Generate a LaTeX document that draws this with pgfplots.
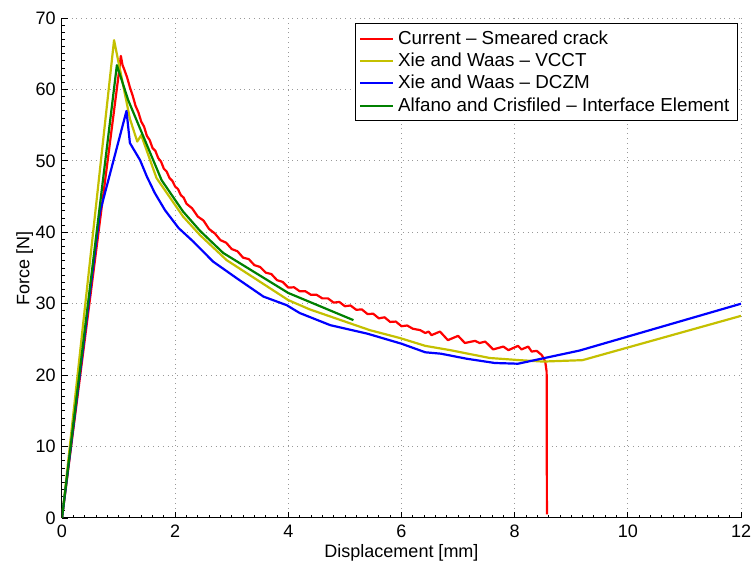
\documentclass[border=0pt]{standalone}
\usepackage{pgfplots}
\pgfplotsset{compat=1.18}
\usepackage{fontspec}
\setmainfont{Liberation Sans}
\definecolor{myred}{RGB}{255,0,0}
\definecolor{myyel}{RGB}{196,192,0}
\definecolor{myblue}{RGB}{0,0,255}
\definecolor{mygreen}{RGB}{0,128,0}
\begin{document}
\fontsize{9}{11}\selectfont
\begin{tikzpicture}
\begin{axis}[
  scale only axis,
  width=339.5pt, height=250pt,
  xmin=0, xmax=12, ymin=0, ymax=70,
  xtick={0,2,...,12}, ytick={0,10,...,70},
  minor x tick num=9, minor y tick num=9,
  axis x line*=bottom, axis y line*=left,
  axis line style={line width=0.5pt, -},
  tick align=inside,
  major tick length=3pt, minor tick length=1.5pt,
  tick style={black, line width=0.4pt},
  grid=major,
  major grid style={dotted, gray!80, line width=0.5pt},
  /pgf/number format/assume math mode=true,
  tick label style={font=\fontsize{9}{11}\selectfont},
  label style={font=\fontsize{9}{11}\selectfont},
  xlabel={Displacement [mm]},
  ylabel={Force [N]},
  xlabel style={yshift=3pt},
  ylabel style={yshift=-5pt},
  xticklabel style={yshift=-0.5pt},
  legend cell align=left,
  legend style={at={(0.9956,0.99)}, anchor=north east, draw=black, line width=0.6pt,
    font=\fontsize{9.4}{11}\selectfont, inner xsep=2pt, inner ysep=1.5pt,
    row sep=-1.0pt},
  legend image code/.code={\draw[#1, line width=1pt] (0pt,0pt) -- (16.5pt,0pt);},
  every axis plot/.append style={line width=1.1pt, line join=round},
]
\addplot[myred] coordinates {
(0,0) (1.0,62.0) (1.04,64.7)
(1.07,63.4) (1.1,62.8) (1.15,61.7) (1.2,60.3) (1.25,59.1) (1.3,57.7) (1.35,56.8) (1.4,55.5)
(1.45,54.8) (1.5,53.5) (1.55,52.9) (1.6,51.8) (1.65,51.4) (1.7,50.4) (1.75,49.9) (1.8,48.9)
(1.85,48.5) (1.9,47.6) (1.95,47.2) (2.0,46.4) (2.05,46.05) (2.1,45.2) (2.15,44.85) (2.2,44.0)
(2.3,43.35) (2.4,42.2) (2.5,41.65) (2.6,40.45) (2.7,39.85) (2.8,38.9) (2.9,38.55) (3.0,37.65)
(3.1,37.35) (3.2,36.45) (3.3,36.25) (3.4,35.4) (3.5,35.15) (3.6,34.35) (3.7,34.15) (3.8,33.3)
(3.9,33.05) (4.0,32.25) (4.1,32.3) (4.2,31.75) (4.3,31.75) (4.4,31.25) (4.5,31.25) (4.6,30.75)
(4.7,30.75) (4.8,30.15) (4.9,30.25) (5.0,29.65) (5.1,29.75) (5.2,29.15) (5.3,29.2) (5.4,28.55)
(5.5,28.6) (5.6,27.95) (5.7,28.1) (5.8,27.45) (5.9,27.5) (6.0,26.85) (6.1,26.95) (6.2,26.5)
(6.33,26.3) (6.42,25.9) (6.48,26.1) (6.53,25.6) (6.68,26.1) (6.82,24.9) (7.0,25.5) (7.12,24.5)
(7.3,24.8) (7.38,24.5) (7.48,24.7) (7.62,23.6) (7.8,24.0) (7.89,23.5) (8.06,24.1) (8.12,23.6)
(8.24,24.0) (8.3,23.3) (8.39,23.4) (8.48,22.8) (8.54,21.9) (8.565,20.5) (8.57,0.5)
};
\addlegendentry{Current -- Smeared crack}
\addplot[myyel] coordinates {
(0,0) (0.92,66.9) (1.20,55.9) (1.33,52.7) (1.40,53.6) (1.67,47.6) (2.14,42.2) (2.44,39.6)
(2.91,36.1) (4.0,30.5) (4.38,29.2) (5.44,26.3) (5.97,25.2) (6.42,24.1) (6.86,23.5)
(7.56,22.4) (8.09,22.1) (8.5,21.9) (9.2,22.1) (12,28.3)
};
\addlegendentry{Xie and Waas -- VCCT}
\addplot[myblue] coordinates {
(0,0) (0.67,42.8) (1.14,57.0) (1.20,52.5) (1.38,50.1) (1.50,47.8) (1.64,45.5) (1.82,43.1)
(2.06,40.6) (2.32,38.7) (2.67,35.9) (3.1,33.5) (3.56,31.0) (3.97,29.8) (4.2,28.7) (4.74,27.0)
(5.4,25.8) (6.0,24.4) (6.42,23.2) (6.7,23.0) (7.15,22.3) (7.65,21.7) (8.06,21.6) (9.15,23.45)
(12,30.0)
};
\addlegendentry{Xie and Waas -- DCZM}
\addplot[mygreen] coordinates {
(0,0) (0.97,63.4) (1.17,58.5) (1.76,47.3) (2.14,42.9) (2.44,40.2) (2.85,37.1) (4.0,31.5) (5.15,27.7)
};
\addlegendentry{Alfano and Crisfiled -- Interface Element}
\end{axis}
\pgfresetboundingbox
\path (current axis.south west) ++(-31pt,-24pt) coordinate (bl);
\path (current axis.north east) ++(6pt,9pt) coordinate (tr);
\path[use as bounding box] (bl) rectangle (tr);
\end{tikzpicture}
\end{document}
